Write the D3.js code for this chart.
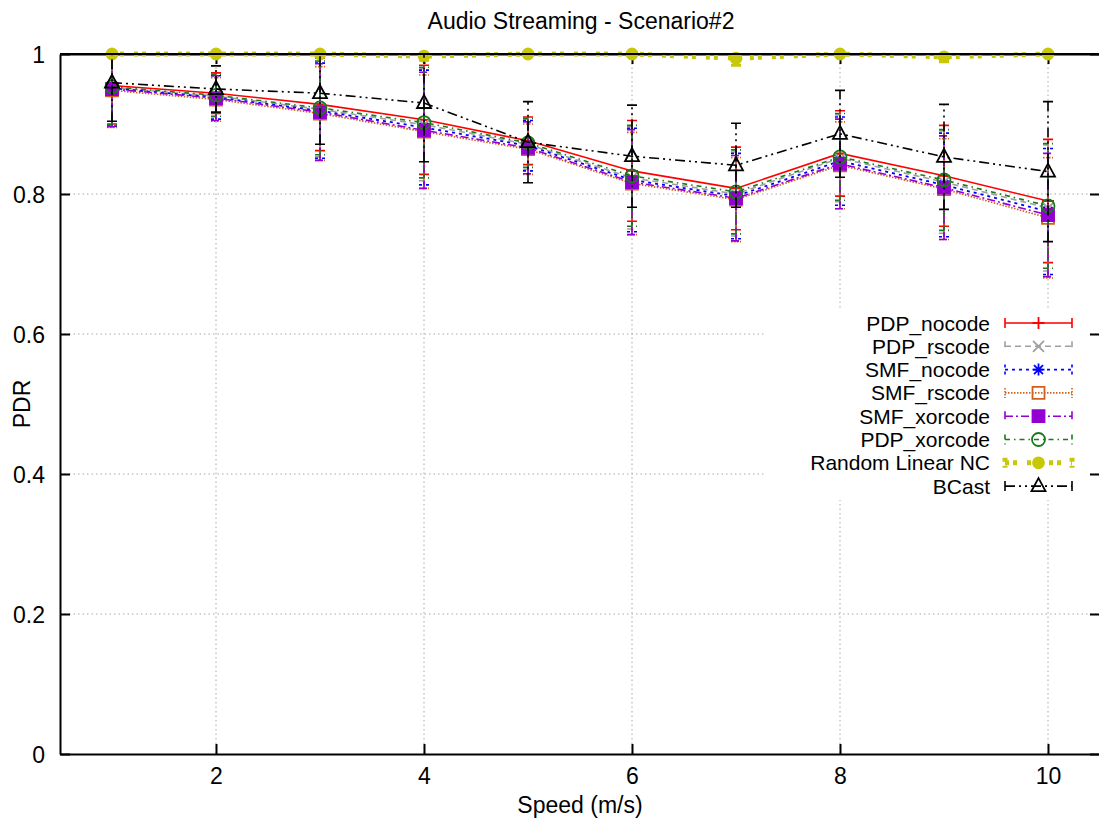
<!DOCTYPE html>
<html>
<head>
<meta charset="utf-8">
<script src="https://cdn.jsdelivr.net/npm/d3@7"></script>
<style>
  body { margin: 0; background: #fff; }
  svg { display: block; font-family: "Liberation Sans", Arial, Helvetica, sans-serif; }
</style>
</head>
<body>
<div id="chart"></div>
<script>
// Data
const speeds = [1, 2, 3, 4, 5, 6, 7, 8, 9, 10];

const pdpNocode     = [0.955, 0.944, 0.928, 0.906, 0.876, 0.833, 0.808, 0.858, 0.826, 0.790];
const pdpNocodeErr  = [0.055, 0.029, 0.066, 0.078, 0.034, 0.072, 0.059, 0.061, 0.072, 0.088];
const pdpRscode     = [0.952, 0.940, 0.921, 0.899, 0.871, 0.823, 0.800, 0.851, 0.817, 0.780];
const pdpRscodeErr  = [0.054, 0.030, 0.068, 0.080, 0.036, 0.073, 0.060, 0.062, 0.073, 0.090];
const smfNocode     = [0.951, 0.938, 0.919, 0.895, 0.869, 0.820, 0.797, 0.847, 0.813, 0.775];
const smfNocodeErr  = [0.054, 0.031, 0.068, 0.082, 0.036, 0.074, 0.061, 0.063, 0.074, 0.090];
const smfRscode     = [0.948, 0.935, 0.915, 0.889, 0.864, 0.815, 0.792, 0.841, 0.807, 0.766];
const smfRscodeErr  = [0.053, 0.031, 0.067, 0.081, 0.036, 0.073, 0.060, 0.062, 0.072, 0.086];
const smfXorcode    = [0.950, 0.937, 0.917, 0.891, 0.866, 0.817, 0.794, 0.843, 0.809, 0.770];
const smfXorcodeErr = [0.054, 0.032, 0.069, 0.083, 0.037, 0.075, 0.061, 0.064, 0.074, 0.088];
const pdpXorcode    = [0.953, 0.941, 0.923, 0.902, 0.873, 0.826, 0.803, 0.853, 0.820, 0.783];
const pdpXorcodeErr = [0.054, 0.030, 0.067, 0.079, 0.035, 0.072, 0.060, 0.062, 0.072, 0.089];
const randomNC      = [1.000, 1.000, 1.000, 0.997, 1.000, 1.000, 0.994, 1.000, 0.996, 1.000];
const randomNCErr   = [0.000, 0.000, 0.000, 0.006, 0.001, 0.000, 0.010, 0.000, 0.007, 0.001];
const bcast         = [0.959, 0.950, 0.944, 0.930, 0.874, 0.854, 0.841, 0.886, 0.853, 0.832];
const bcastErr      = [0.055, 0.033, 0.073, 0.084, 0.058, 0.073, 0.060, 0.062, 0.075, 0.100];

const xTicks = [2, 4, 6, 8, 10];
const yTicks = [0, 0.2, 0.4, 0.6, 0.8, 1];

// series styling (gnuplot-like line types)
const series = [
    {name: "PDP_nocode", values: pdpNocode, err: pdpNocodeErr, color: "#ff0000", dash: null, width: 1.6, marker: "plus"},
    {name: "PDP_rscode", values: pdpRscode, err: pdpRscodeErr, color: "#a0a0a0", dash: "6,4", width: 1.6, marker: "cross"},
    {name: "SMF_nocode", values: smfNocode, err: smfNocodeErr, color: "#0000ff", dash: "3,4", width: 1.8, marker: "star"},
    {name: "SMF_rscode", values: smfRscode, err: smfRscodeErr, color: "#d2601a", dash: "1.5,1.5", width: 1.6, marker: "square"},
    {name: "SMF_xorcode", values: smfXorcode, err: smfXorcodeErr, color: "#9400d3", dash: "8,3,2,3", width: 1.6, marker: "fsquare"},
    {name: "PDP_xorcode", values: pdpXorcode, err: pdpXorcodeErr, color: "#1a7a1a", dash: "5,4,1.5,4", width: 1.6, marker: "circle"},
    {name: "Random Linear NC", values: randomNC, err: randomNCErr, color: "#c8c80a", dash: "4,4,4,10", width: 5, marker: "fcircle"},
    {name: "BCast", values: bcast, err: bcastErr, color: "#000000", dash: "10,4,2,4,2,4", width: 1.6, marker: "triangle"}
];

const config = {
    width: 1099, height: 831,
    margin: {top: 54, right: -1, bottom: 77, left: 60}
};
const innerW = config.width - config.margin.left - config.margin.right;
const innerH = config.height - config.margin.top - config.margin.bottom;

const svg = d3.select("#chart").append("svg")
    .attr("width", config.width)
    .attr("height", config.height);

const x = d3.scaleLinear().domain([0.5, 10.5]).range([0, innerW]);
const y = d3.scaleLinear().domain([0, 1]).range([innerH, 0]);

const chart = svg.append("g")
    .attr("transform", `translate(${config.margin.left},${config.margin.top})`);

svg.append("defs").append("clipPath").attr("id", "plotclip")
    .append("rect").attr("x", 0).attr("y", 0).attr("width", innerW).attr("height", innerH);

// grid
const grid = chart.append("g").attr("stroke", "#a8a8a8").attr("stroke-width", 1).attr("stroke-dasharray", "1.5,3");
grid.selectAll("line.gx").data(xTicks).join("line")
    .attr("x1", d => x(d)).attr("x2", d => x(d)).attr("y1", 0).attr("y2", innerH);
grid.selectAll("line.gy").data(yTicks.filter(d => d > 0 && d < 1)).join("line")
    .attr("x1", 0).attr("x2", innerW).attr("y1", d => y(d)).attr("y2", d => y(d));

// axes (ticks point inward like gnuplot)
const fontSize = 23;
const xAxis = chart.append("g")
    .attr("transform", `translate(0,${innerH})`)
    .call(d3.axisBottom(x).tickValues(xTicks).tickSizeInner(-10).tickSizeOuter(0).tickPadding(14).tickFormat(d3.format("d")));
const yAxis = chart.append("g")
    .call(d3.axisLeft(y).tickValues(yTicks).tickSizeInner(-10).tickSizeOuter(0).tickPadding(15).tickFormat(d => d === 0 || d === 1 ? d : d3.format(".1f")(d)));
// mirror ticks
chart.append("g").attr("transform", `translate(${innerW},0)`)
    .call(d3.axisRight(y).tickValues(yTicks).tickSizeInner(-10).tickSizeOuter(0).tickFormat(""));
chart.append("g")
    .call(d3.axisTop(x).tickValues(xTicks).tickSizeInner(-10).tickSizeOuter(0).tickFormat(""));

chart.selectAll(".domain").attr("stroke", "#000").attr("stroke-width", 2);
chart.selectAll(".tick line").attr("stroke", "#000").attr("stroke-width", 2);
chart.selectAll(".tick text").attr("font-size", fontSize).attr("font-family", "Liberation Sans, Arial, sans-serif").attr("fill", "#000");
yAxis.selectAll(".tick text").attr("dy", "0.36em");

// marker shapes
function markerPath(type, cx, cy) {
    const p = d3.path();
    const s = 6;
    if (type === "plus" || type === "star") {
        p.moveTo(cx - s, cy); p.lineTo(cx + s, cy);
        p.moveTo(cx, cy - s); p.lineTo(cx, cy + s);
    }
    if (type === "cross" || type === "star") {
        const t = type === "star" ? 4.5 : 5.5;
        p.moveTo(cx - t, cy - t); p.lineTo(cx + t, cy + t);
        p.moveTo(cx - t, cy + t); p.lineTo(cx + t, cy - t);
    }
    if (type === "square" || type === "fsquare") {
        p.rect(cx - 6, cy - 6, 12, 12);
    }
    if (type === "circle") {
        p.moveTo(cx + 6.5, cy); p.arc(cx, cy, 6.5, 0, 2 * Math.PI);
    }
    if (type === "fcircle") {
        p.moveTo(cx + 5.5, cy); p.arc(cx, cy, 5.5, 0, 2 * Math.PI);
    }
    if (type === "triangle") {
        p.moveTo(cx, cy - 8); p.lineTo(cx + 7, cy + 5); p.lineTo(cx - 7, cy + 5); p.closePath();
    }
    return p.toString();
}
function isFilled(type) { return type === "fsquare" || type === "fcircle"; }

// series
const line = d3.line().x(d => x(d.x)).y(d => y(d.y));

series.forEach(s => {
    const pts = speeds.map((sp, i) => ({x: sp, y: s.values[i], e: s.err[i]}));
    const g = chart.append("g").attr("class", "series");

    // error bars
    const eb = g.append("g").attr("clip-path", "url(#plotclip)")
        .attr("stroke", s.color).attr("stroke-width", s.name === "Random Linear NC" ? 3 : 1.6)
        .attr("fill", "none");
    eb.selectAll("path").data(pts.filter(d => d.e > 0)).join("path")
        .attr("stroke-dasharray", s.name === "Random Linear NC" ? null : s.dash)
        .attr("d", d => {
            const p = d3.path();
            const cx = x(d.x), y0 = y(d.y - d.e), y1 = y(d.y + d.e);
            p.moveTo(cx, y0); p.lineTo(cx, y1);
            p.moveTo(cx - 5, y0); p.lineTo(cx + 5, y0);
            p.moveTo(cx - 5, y1); p.lineTo(cx + 5, y1);
            return p.toString();
        });

    // connecting line
    g.append("path").datum(pts)
        .attr("fill", "none")
        .attr("stroke", s.color)
        .attr("stroke-width", s.width)
        .attr("stroke-dasharray", s.dash)
        .attr("d", line);

    // point markers
    g.selectAll("path.pt").data(pts).join("path")
        .attr("class", "pt")
        .attr("d", d => markerPath(s.marker, x(d.x), y(d.y)))
        .attr("fill", isFilled(s.marker) ? s.color : "none")
        .attr("stroke", s.color)
        .attr("stroke-width", 1.8);
});

// redraw the top border over the NC line
chart.append("line").attr("x1", 0).attr("x2", innerW).attr("y1", 0).attr("y2", 0)
    .attr("stroke", "#000").attr("stroke-width", 2);

// legend
const legendX = 765 - config.margin.left, legendY = 310 - config.margin.top;
chart.append("rect")
    .attr("x", legendX).attr("y", legendY)
    .attr("width", 1088 - 765).attr("height", 190)
    .attr("fill", "#fff");

const rowH = 23.3;
const legend = chart.append("g")
    .selectAll("g")
    .data(series)
    .join("g")
    .attr("transform", (d, i) => `translate(0,${323 - config.margin.top + i * rowH})`);

legend.append("text")
    .attr("x", 990 - config.margin.left)
    .attr("y", 0)
    .attr("dy", "0.36em")
    .attr("text-anchor", "end")
    .attr("font-size", 21)
    .attr("fill", "#000")
    .text(d => d.name);

const lx0 = 1005 - config.margin.left, lx1 = 1072 - config.margin.left;
legend.append("path")
    .attr("fill", "none")
    .attr("stroke", d => d.color)
    .attr("stroke-width", d => d.name === "Random Linear NC" ? 5 : 1.6)
    .attr("stroke-dasharray", d => d.dash)
    .attr("d", d => {
        const p = d3.path();
        p.moveTo(lx0, 0); p.lineTo(lx1, 0);
        p.moveTo(lx0, -5); p.lineTo(lx0, 5);
        p.moveTo(lx1, -5); p.lineTo(lx1, 5);
        return p.toString();
    });
legend.append("path")
    .attr("d", d => markerPath(d.marker, (lx0 + lx1) / 2, 0))
    .attr("fill", d => isFilled(d.marker) ? d.color : "none")
    .attr("stroke", d => d.color)
    .attr("stroke-width", 1.8);

// titles
svg.append("text")
    .attr("x", 581).attr("y", 29)
    .attr("text-anchor", "middle")
    .attr("font-size", fontSize)
    .text("Audio Streaming - Scenario#2");

svg.append("text")
    .attr("x", 580).attr("y", 813)
    .attr("text-anchor", "middle")
    .attr("font-size", fontSize)
    .text("Speed (m/s)");

svg.append("text")
    .attr("transform", "translate(30,404) rotate(-90)")
    .attr("text-anchor", "middle")
    .attr("font-size", fontSize)
    .text("PDR");
</script>
</body>
</html>
